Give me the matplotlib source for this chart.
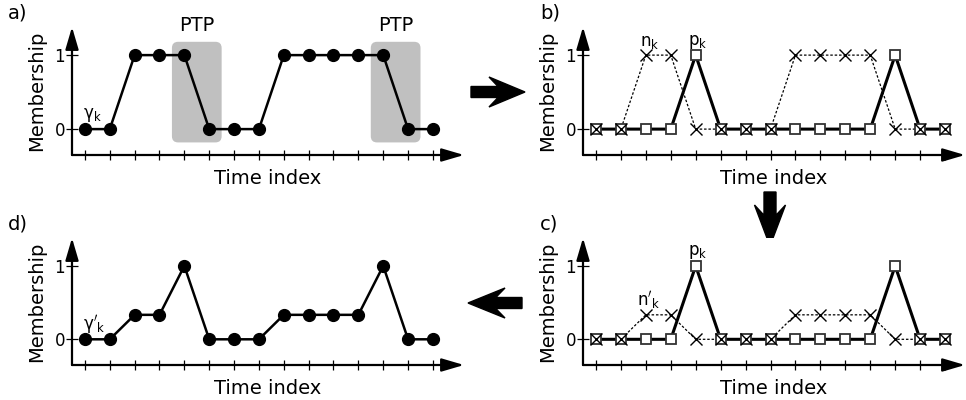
import matplotlib.pyplot as plt
from matplotlib.patches import FancyBboxPatch, FancyArrow, ArrowStyle

plt.rcParams['font.family'] = 'DejaVu Sans'
plt.rcParams['mathtext.fontset'] = 'dejavusans'

W, H = 966, 400

# time index and membership series
t = list(range(15))
gamma = [0, 0, 1, 1, 1, 0, 0, 0, 1, 1, 1, 1, 1, 0, 0]
p_k = [0, 0, 0, 0, 1, 0, 0, 0, 0, 0, 0, 0, 1, 0, 0]
n_k = [0, 0, 1, 1, 0, 0, 0, 0, 1, 1, 1, 1, 0, 0, 0]
n_k_scaled = [0, 0, 1/3, 1/3, 0, 0, 0, 0, 1/3, 1/3, 1/3, 1/3, 0, 0, 0]
gamma_new = [0, 0, 1/3, 1/3, 1, 0, 0, 0, 1/3, 1/3, 1/3, 1/3, 1, 0, 0]
ptp_spans = [(3.5, 5.5), (11.5, 13.5)]

fig = plt.figure(figsize=(W / 100, H / 100), dpi=100)


def make_axes(left, top, right, bottom, xmax):
    ax = fig.add_axes([left / W, 1 - bottom / H, (right - left) / W, (bottom - top) / H])
    ax.set_xlim(-0.52, xmax)
    ax.set_ylim(-0.35, 1.38)
    for s in ax.spines.values():
        s.set_visible(False)
    ax.set_xticks(t)
    ax.set_xticklabels([])
    ax.set_yticks([0, 1])
    ax.set_yticklabels(['0', '1'])
    ax.tick_params(axis='x', direction='inout', length=7.5, width=0.9)
    ax.tick_params(axis='y', direction='inout', length=8, width=0.9, labelsize=12, pad=1)
    head = ArrowStyle('-|>', head_length=0.85, head_width=0.25)
    for end in [(1, 0), (0, 1)]:
        ax.annotate('', xy=end, xytext=(0, 0), xycoords='axes fraction',
                    arrowprops=dict(arrowstyle=head, lw=1.6, color='k',
                                    mutation_scale=16, shrinkA=0, shrinkB=0))
    ax.set_xlabel('Time index', fontsize=14, labelpad=3)
    ax.set_ylabel('Membership', fontsize=14, labelpad=6)
    return ax


def draw_pn(ax, n_vals):
    ax.plot(t, n_vals, color='k', lw=0.9, ls=(0, (2, 1.5)), zorder=2)
    ax.plot(t, p_k, color='k', lw=2.2, zorder=3, solid_joinstyle='miter')
    ax.plot(t, p_k, ls='none', marker='s', ms=7, mfc='white', mec='#333333',
            mew=1.3, zorder=4)
    ax.plot(t, n_vals, ls='none', marker='x', ms=8, mec='k', mew=1, zorder=5)


# a) original membership with PTP regions
ax_a = make_axes(72, 27, 464, 155, 15.25)
for x0, x1 in ptp_spans:
    box = FancyBboxPatch((x0, -0.18), x1 - x0, 1.36,
                         boxstyle='round,pad=0,rounding_size=0.25',
                         mutation_aspect=0.336, fc='#c0c0c0', ec='none', zorder=1)
    ax_a.add_patch(box)
    ax_a.text((x0 + x1) / 2, 1.40, 'PTP', fontsize=14, ha='center', va='center',
              clip_on=False)
ax_a.plot(t, gamma, color='k', lw=1.8, marker='o', ms=8.5, zorder=3)
ax_a.text(-0.08, 0.19, r'$\mathrm{\gamma_k}$', fontsize=12, ha='left', va='center')

# b) positive / negative parts
ax_b = make_axes(583, 27, 965, 155, 14.8)
draw_pn(ax_b, n_k)
ax_b.text(2.17, 1.18, r'$\mathrm{n_k}$', fontsize=12, ha='center', va='center')
ax_b.text(4.1, 1.18, r'$\mathrm{p_k}$', fontsize=12, ha='center', va='center')

# c) negative part rescaled
ax_c = make_axes(583, 238, 965, 365, 14.8)
draw_pn(ax_c, n_k_scaled)
ax_c.text(4.1, 1.19, r'$\mathrm{p_k}$', fontsize=12, ha='center', va='center')
ax_c.text(2.1, 0.53, r"$\mathrm{n'_k}$", fontsize=12, ha='center', va='center')

# d) recombined membership
ax_d = make_axes(72, 238, 464, 365, 15.25)
ax_d.plot(t, gamma_new, color='k', lw=1.8, marker='o', ms=8.5, zorder=3)
ax_d.text(-0.08, 0.2, r"$\mathrm{\gamma'_k}$", fontsize=12, ha='left', va='center')

# overlay in pixel coordinates for panel letters and flow arrows
bg = fig.add_axes([0, 0, 1, 1], zorder=-1)
bg.set_xlim(0, W)
bg.set_ylim(H, 0)
bg.axis('off')
for x, y, lab in [(8, 13, 'a)'), (540, 13, 'b)'), (540, 224, 'c)'), (8, 224, 'd)')]:
    bg.text(x, y, lab, fontsize=14, ha='left', va='center')
bg.add_patch(FancyArrow(471, 92, 54, 0, width=11, head_width=30, head_length=36,
                        length_includes_head=True, overhang=0.25, color='k'))
bg.add_patch(FancyArrow(770, 192, 0, 54, width=12, head_width=31, head_length=41,
                        length_includes_head=True, overhang=0.25, color='k'))
bg.add_patch(FancyArrow(522, 303, -54, 0, width=11, head_width=30, head_length=37,
                        length_includes_head=True, overhang=0.25, color='k'))

fig.savefig('out.png', dpi=100)
